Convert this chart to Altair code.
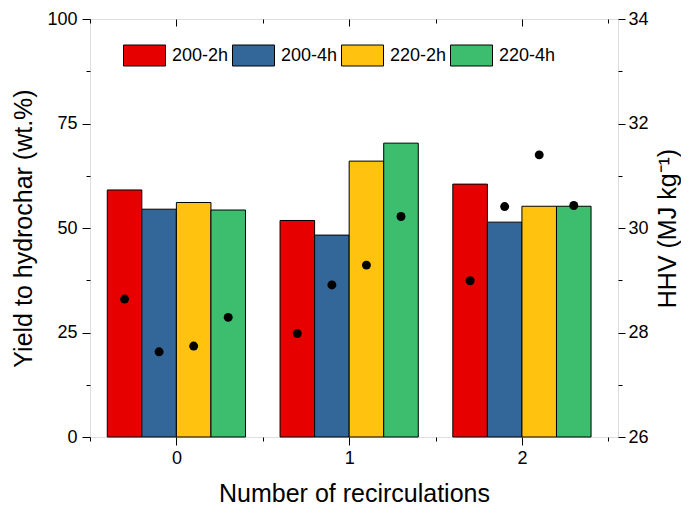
import altair as alt
import pandas as pd

# ---------------- data ----------------
cycles = [0, 1, 2]
series = ["200-2h", "200-4h", "220-2h", "220-4h"]
colors = ["#E60000", "#336699", "#FFC20E", "#3CBE6E"]

yield_200_2h = [59.1, 51.8, 60.5]
yield_200_4h = [54.5, 48.3, 51.4]
yield_220_2h = [56.1, 66.0, 55.2]
yield_220_4h = [54.3, 70.3, 55.2]

hhv_200_2h = [28.64, 27.98, 28.99]
hhv_200_4h = [27.63, 28.91, 30.41]
hhv_220_2h = [27.74, 29.29, 31.40]
hhv_220_4h = [28.29, 30.22, 30.43]

x_major = [0, 1, 2]
x_minor = [-0.5, 0.5, 1.5, 2.5]
y_major = [0, 25, 50, 75, 100]
y_minor = [12.5, 37.5, 62.5, 87.5]
h_major = [26, 28, 30, 32, 34]
h_minor = [27, 29, 31, 33]

yields = [yield_200_2h, yield_200_4h, yield_220_2h, yield_220_4h]
hhvs = [hhv_200_2h, hhv_200_4h, hhv_220_2h, hhv_220_4h]
rows = []
for s, ys, hs in zip(series, yields, hhvs):
    for c, yv, hv in zip(cycles, ys, hs):
        rows.append({"cycle": c, "series": s, "yield": yv, "hhv": hv})
df = pd.DataFrame(rows)

FONT = "Liberation Sans"
series_js = "[" + ",".join("'" + s + "'" for s in series) + "]"
xdom = alt.Scale(domain=[-0.5, 2.556], nice=False, zero=False)

def ax(**kw):
    base = dict(grid=False, domain=False, tickColor="black", tickWidth=1,
                labelFont=FONT, labelFontSize=18, labelColor="black",
                titleFont=FONT, titleFontSize=25, titleFontWeight="normal",
                titleColor="black")
    base.update(kw)
    return alt.Axis(**base)

base = alt.Chart(df)

bars = base.mark_bar(stroke="black", strokeWidth=1).encode(
    x=alt.X("x0:Q", scale=xdom,
            axis=ax(orient="bottom", values=x_major, tickSize=8, labelPadding=4,
                    format="d", titlePadding=14),
            title="Number of recirculations"),
    x2="x1:Q",
    y=alt.Y("yield:Q", scale=alt.Scale(domain=[0, 100], nice=False),
            axis=ax(orient="left", values=y_major, tickSize=8, labelPadding=5,
                    titlePadding=10),
            title="Yield to hydrochar (wt.%)"),
    y2=alt.datum(0),
    color=alt.Color("series:N",
                    scale=alt.Scale(domain=series, range=colors),
                    legend=alt.Legend(orient="none", legendX=33, legendY=15,
                                      direction="horizontal", columns=4,
                                      title=None,
                                      symbolType="M-1,-0.5H1V0.5H-1Z",
                                      symbolSize=1764,
                                      symbolStrokeColor="black",
                                      symbolStrokeWidth=1,
                                      symbolOpacity=1,
                                      labelFont=FONT, labelFontSize=18,
                                      labelColor="black",
                                      labelOffset=6, columnPadding=1)),
)

points = base.mark_circle(size=80, color="black", opacity=1).encode(
    x=alt.X("xpos:Q", scale=xdom,
            axis=ax(orient="top", values=x_major, tickSize=7, offset=-7,
                    labels=False),
            title=None),
    y=alt.Y("hhv:Q", scale=alt.Scale(domain=[26, 34], nice=False, zero=False),
            axis=ax(orient="right", values=h_major, tickSize=7, labelPadding=3,
                    titleAngle=270, titlePadding=32),
            title="HHV (MJ kg\u207b\u00b9)"),
)

minor_lb = base.mark_circle(opacity=0).encode(
    x=alt.X("xpos:Q", scale=xdom,
            axis=ax(orient="bottom", values=x_minor, tickSize=4, labels=False),
            title=None),
    y=alt.Y("yield:Q", scale=alt.Scale(domain=[0, 100], nice=False),
            axis=ax(orient="left", values=y_minor, tickSize=4, labels=False),
            title=None),
)

minor_tr = base.mark_circle(opacity=0).encode(
    x=alt.X("xpos:Q", scale=xdom,
            axis=ax(orient="top", values=x_minor, tickSize=4, offset=-4,
                    labels=False),
            title=None),
    y=alt.Y("hhv:Q", scale=alt.Scale(domain=[26, 34], nice=False, zero=False),
            axis=ax(orient="right", values=h_minor, tickSize=4, labels=False),
            title=None),
)

chart = alt.layer(bars, points, minor_lb, minor_tr).transform_calculate(
    idx="indexof(" + series_js + ", datum.series)"
).transform_calculate(
    xpos="datum.cycle + (datum.idx - 1.5) * 0.2"
).transform_calculate(
    x0="datum.xpos - 0.1", x1="datum.xpos + 0.1"
).resolve_scale(
    y="independent"
).resolve_axis(
    x="independent", y="independent"
).properties(
    width=528, height=418,
    autosize=alt.AutoSizeParams(type="none"),
    padding={"left": 82, "top": 11, "right": 63, "bottom": 69},
).configure_view(
    stroke="black", strokeWidth=1.2
).configure(background="white")

chart.save("out.html", embed_options={"renderer": "svg", "actions": False})
